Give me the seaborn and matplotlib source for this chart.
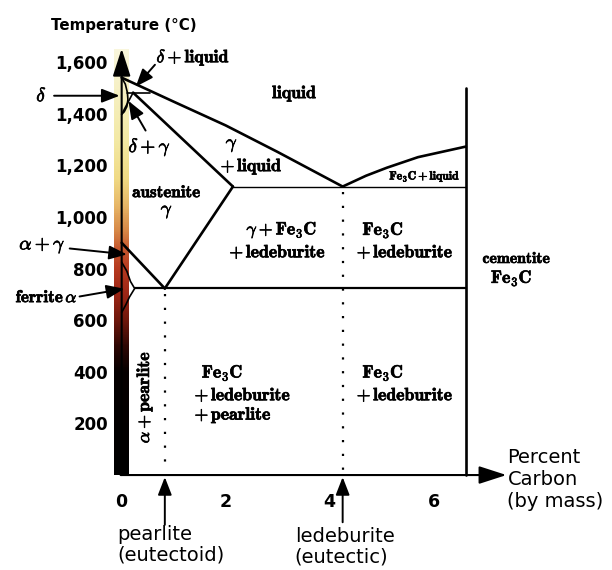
import numpy as np
import pandas as pd
import matplotlib
matplotlib.use("Agg")
import matplotlib.pyplot as plt
import matplotlib.patheffects as pe
from matplotlib.colors import LinearSegmentedColormap, Normalize
import seaborn as sns

# ---- phase boundary data (percent carbon by mass, temperature in °C) ----
eutectoid_c = 0.83
eutectoid_t = 723
eutectic_c = 4.25
eutectic_t = 1118
acm_top_c = 2.14
cementite_c = 6.62
cementite_top_t = 1500

liquidus_c = [0.0, 1.0, 2.0, 3.0, eutectic_c]
liquidus_t = [1540, 1447, 1355, 1252, eutectic_t]

fe3c_liquidus_c = [eutectic_c, 4.7, 5.1, 5.7, cementite_c]
fe3c_liquidus_t = [eutectic_t, 1160, 1191, 1232, 1273]

solidus_c = [0.22, acm_top_c]
solidus_t = [1482, eutectic_t]

a3_c = [0.0, eutectoid_c]
a3_t = [900, eutectoid_t]

acm_c = [eutectoid_c, acm_top_c]
acm_t = [eutectoid_t, eutectic_t]

cementite_line_c = [cementite_c, cementite_c]
cementite_line_t = [0, cementite_top_t]

eutectoid_line_c = [0.25, cementite_c]
eutectic_line_c = [acm_top_c, cementite_c]

peritectic_c = [0.11, 0.55]
peritectic_t = [1482, 1482]

delta_c = [0.0, 0.07, 0.11, 0.12, 0.10, 0.05, 0.0]
delta_t = [1540, 1515, 1482, 1455, 1428, 1408, 1398]

gamma_edge_c = [0.22, 0.0]
gamma_edge_t = [1482, 1398]

ferrite_c = [0.0, 0.1, 0.17, 0.25, 0.15, 0.08, 0.0]
ferrite_t = [825, 790, 750, eutectoid_t, 690, 660, 630]

x_ticks = [0, 2, 4, 6]
y_ticks = [200, 400, 600, 800, 1000, 1200, 1400, 1600]
y_tick_labels = ["200", "400", "600", "800", "1,000", "1,200", "1,400", "1,600"]

# temperature colour strip stops (°C, colour)
strip_temps = [0, 400, 500, 600, 700, 800, 880, 950, 1050, 1150, 1300, 1500, 1650]
strip_colors = ["#000000", "#060000", "#300704", "#70180c", "#9c2616", "#b63a20",
                "#c65a30", "#d88a48", "#e8b868", "#f0da84", "#f3e9a4", "#f6f0c4", "#f9f6dc"]

thick = [
    ("liquidus", liquidus_c, liquidus_t),
    ("fe3c_liquidus", fe3c_liquidus_c, fe3c_liquidus_t),
    ("solidus", solidus_c, solidus_t),
    ("a3", a3_c, a3_t),
    ("acm", acm_c, acm_t),
    ("cementite", cementite_line_c, cementite_line_t),
]
thin = [
    ("peritectic", peritectic_c, peritectic_t),
    ("delta", delta_c, delta_t),
    ("gamma_edge", gamma_edge_c, gamma_edge_t),
    ("ferrite", ferrite_c, ferrite_t),
]


def to_frame(items):
    rows = []
    for name, cs, ts in items:
        for i, (c, t) in enumerate(zip(cs, ts)):
            rows.append({"boundary": name, "order": i, "carbon": c, "temp": t})
    return pd.DataFrame(rows)


sns.set_style("white")
plt.rcParams["font.family"] = ["DejaVu Sans"]
plt.rcParams["mathtext.fontset"] = "cm"
plt.rcParams["text.color"] = "black"

fig = plt.figure(figsize=(6.12, 5.70), dpi=100)
ax = fig.add_axes([0, 0, 1, 1])
ax.set_facecolor("white")

# colour strip along the temperature axis
cmap = LinearSegmentedColormap.from_list(
    "heat", [(t / strip_temps[-1], c) for t, c in zip(strip_temps, strip_colors)])
grad = np.linspace(0, strip_temps[-1], 500).reshape(-1, 1)
ax.imshow(grad, extent=[-0.155, 0.115, 0, strip_temps[-1]], origin="lower",
          aspect="auto", cmap=cmap, norm=Normalize(0, strip_temps[-1]), zorder=1,
          interpolation="bilinear")

sns.lineplot(data=to_frame(thick), x="carbon", y="temp", units="boundary",
             estimator=None, sort=False, color="black", lw=1.9, ax=ax, zorder=3)
sns.lineplot(data=to_frame(thin), x="carbon", y="temp", units="boundary",
             estimator=None, sort=False, color="black", lw=1.2, ax=ax, zorder=3)
sns.lineplot(x=eutectoid_line_c, y=[eutectoid_t, eutectoid_t], color="black",
             lw=1.6, ax=ax, zorder=3)
sns.lineplot(x=eutectic_line_c, y=[eutectic_t, eutectic_t], color="black",
             lw=1.0, ax=ax, zorder=3)

# dotted composition markers
for c, t in [(eutectoid_c, eutectoid_t), (eutectic_c, eutectic_t)]:
    ax.plot([c, c], [t - 22, 20], color="black", lw=1.6,
            linestyle=(0, (1, 5.2)), zorder=3)

ax.set_xlim(-2.34, 9.43)
ax.set_ylim(-368, 1841)

# axes through the origin, with arrow heads
for side in ["top", "right"]:
    ax.spines[side].set_visible(False)
ax.spines["left"].set_position(("data", 0))
ax.spines["bottom"].set_position(("data", 0))
ax.spines["left"].set_visible(False)
ax.spines["bottom"].set_visible(False)
arrow_axis = dict(arrowstyle="-|>,head_length=1.3,head_width=0.42", lw=1.5,
                  color="black", shrinkA=0, shrinkB=0, mutation_scale=13)
ax.annotate("", xy=(0, 1652), xytext=(0, 0), arrowprops=arrow_axis, zorder=4)
ax.annotate("", xy=(7.40, 0), xytext=(-0.02, 0), arrowprops=arrow_axis, zorder=4)

ax.set_xticks(x_ticks)
ax.set_xticklabels([str(v) for v in x_ticks])
ax.set_yticks(y_ticks)
ax.set_yticklabels(y_tick_labels)
ax.tick_params(axis="both", direction="inout", length=10, width=1.4, color="black",
               labelsize=12, labelcolor="black")
ax.tick_params(axis="x", pad=8, labelsize=12.5)
ax.tick_params(axis="y", pad=5)
for lab in ax.get_xticklabels() + ax.get_yticklabels():
    lab.set_fontweight("bold")
ax.set_xlabel("")
ax.set_ylabel("")

ax.text(0.04, 1741, "Temperature (°C)", ha="center", va="center",
        fontsize=10.8, fontweight="bold")
ax.text(7.42, -19, "Percent\nCarbon\n(by mass)", ha="left", va="center",
        fontsize=14, linespacing=1.2)
ax.text(-0.08, -271, "pearlite\n(eutectoid)", ha="left", va="center",
        fontsize=14, linespacing=1.1)
ax.text(3.33, -279, "ledeburite\n(eutectic)", ha="left", va="center",
        fontsize=14, linespacing=1.1)

arrow_lbl = dict(arrowstyle="-|>,head_length=0.9,head_width=0.35", lw=1.4,
                 color="black", shrinkA=0, shrinkB=0, mutation_scale=12)
ax.annotate("", xy=(eutectoid_c, -8), xytext=(eutectoid_c, -193),
            arrowprops=arrow_lbl, zorder=4)
ax.annotate("", xy=(eutectic_c, -8), xytext=(eutectic_c, -183),
            arrowprops=arrow_lbl, zorder=4)

# region labels, slightly heavier strokes
heavy = [pe.withStroke(linewidth=0.5, foreground="black")]


def region(x, y, s, size, **kw):
    kw.setdefault("ha", "center")
    ax.text(x, y, s, va="center", fontsize=size, path_effects=heavy, **kw)


fs = 12.8
region(0.67, 1617, r"$\delta + \mathbf{liquid}$", fs, ha="left")
ax.annotate("", xy=(0.27, 1505), xytext=(0.64, 1590), arrowprops=arrow_lbl, zorder=4)
region(-1.54, 1470, r"$\delta$", fs + 1)
ax.annotate("", xy=(-0.04, 1470), xytext=(-1.30, 1470), arrowprops=arrow_lbl, zorder=4)
region(0.54, 1269, r"$\delta + \gamma$", fs + 1)
ax.annotate("", xy=(0.13, 1450), xytext=(0.46, 1335), arrowprops=arrow_lbl, zorder=4)
region(-1.08, 890, r"$\alpha + \gamma$", fs + 1, ha="right")
ax.annotate("", xy=(0.10, 855), xytext=(-1.00, 878), arrowprops=arrow_lbl, zorder=4)
region(-0.85, 689, r"$\mathbf{ferrite}\,\alpha$", fs - 0.5, ha="right")
ax.annotate("", xy=(0.05, 722), xytext=(-0.81, 692), arrowprops=arrow_lbl, zorder=4)

region(3.33, 1478, r"$\mathbf{liquid}$", fs)
region(2.12, 1277, r"$\gamma$", fs + 1)
region(2.5, 1195, r"$+\,\mathbf{liquid}$", fs)
region(0.87, 1096, r"$\mathbf{austenite}$", fs - 0.5)
region(0.87, 1020, r"$\gamma$", fs + 1)
region(5.83, 1157, r"$\mathbf{Fe_3C} + \mathbf{liquid}$", 8.5)
region(3.08, 948, r"$\gamma + \mathbf{Fe_3C}$", fs)
region(3.0, 863, r"$+\,\mathbf{ledeburite}$", fs)
region(4.63, 948, r"$\mathbf{Fe_3C}$", fs, ha="left")
region(4.52, 863, r"$+\,\mathbf{ledeburite}$", fs, ha="left")
region(7.6, 839, r"$\mathbf{cementite}$", fs - 1.5)
region(7.5, 762, r"$\mathbf{Fe_3C}$", fs)
region(0.44, 302, r"$\alpha + \mathbf{pearlite}$", fs, rotation=90)
region(1.54, 395, r"$\mathbf{Fe_3C}$", fs, ha="left")
region(1.40, 309, r"$+\,\mathbf{ledeburite}$", fs, ha="left")
region(1.40, 232, r"$+\,\mathbf{pearlite}$", fs, ha="left")
region(4.63, 395, r"$\mathbf{Fe_3C}$", fs, ha="left")
region(4.52, 309, r"$+\,\mathbf{ledeburite}$", fs, ha="left")

fig.savefig("out.png", dpi=100)
